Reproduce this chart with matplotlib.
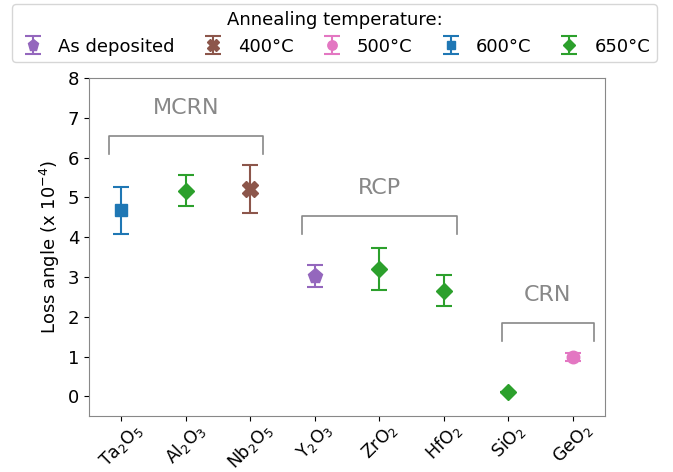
import matplotlib.pyplot as plt

# === DATA ===
materials = ['Ta$_2$O$_5$', 'Al$_2$O$_3$', 'Nb$_2$O$_5$', 'Y$_2$O$_3$',
             'ZrO$_2$', 'HfO$_2$', 'SiO$_2$', 'GeO$_2$']
loss = [4.67, 5.17, 5.2, 3.03, 3.2, 2.65, 0.1, 0.99]
err = [0.6, 0.38, 0.6, 0.28, 0.53, 0.39, 0.0, 0.11]
anneal = ['600', '650', '400', 'as', '650', '650', '650', '500']

groups = ['MCRN', 'RCP', 'CRN']
group_spans = [(-0.19, 2.2), (2.8, 5.2), (5.9, 7.33)]
group_levels = [6.55, 4.53, 1.84]

STYLES = {
    'as': ('As deposited', 'tab:purple', 'p', 11),
    '400': ('400°C', 'tab:brown', 'X', 11),
    '500': ('500°C', 'tab:pink', 'o', 9),
    '600': ('600°C', 'tab:blue', 's', 8),
    '650': ('650°C', 'tab:green', 'D', 8),
}
GRAY = '#888888'

# === PLOT ===
fig, ax = plt.subplots(figsize=(6.73, 4.72), dpi=100)
fig.subplots_adjust(left=0.132, right=0.899, top=0.835, bottom=0.118)

handles = {}
for i, (v, e, a) in enumerate(zip(loss, err, anneal)):
    label, color, marker, ms = STYLES[a]
    h = ax.errorbar(i, v, yerr=e, fmt=marker, color=color, ms=ms,
                    capsize=6, elinewidth=1.5, capthick=1.5)
    handles.setdefault(a, h)

# group brackets
for name, (x0, x1), lvl in zip(groups, group_spans, group_levels):
    ax.plot([x0, x0, x1, x1], [lvl - 0.46, lvl, lvl, lvl - 0.46], color=GRAY, lw=1.2)
    ax.text((x0 + x1) / 2, lvl + 0.45, name, ha='center', va='bottom',
            fontsize=16, color=GRAY)

ax.set_xlim(-0.5, 7.5)
ax.set_ylim(-0.5, 8)
ax.set_xticks(range(len(materials)))
ax.set_xticklabels(materials, rotation=45, fontsize=12.5)
ax.tick_params(axis='x', pad=-1)
ax.set_yticks(range(0, 9))
ax.tick_params(axis='y', labelsize=13)
ax.set_ylabel('Loss angle (x 10$^{-4}$)', fontsize=13)
for s in ax.spines.values():
    s.set_color(GRAY)

order = ['as', '400', '500', '600', '650']
fig.legend([handles[k] for k in order], [STYLES[k][0] for k in order],
           loc='upper center', bbox_to_anchor=(0.497, 1.01), ncol=5,
           title='Annealing temperature:', fontsize=13, title_fontsize=13,
           columnspacing=1.3, handletextpad=0.6, handlelength=1.6,
           borderpad=0.35, markerscale=0.75)

plt.savefig('out.png', dpi=100)
